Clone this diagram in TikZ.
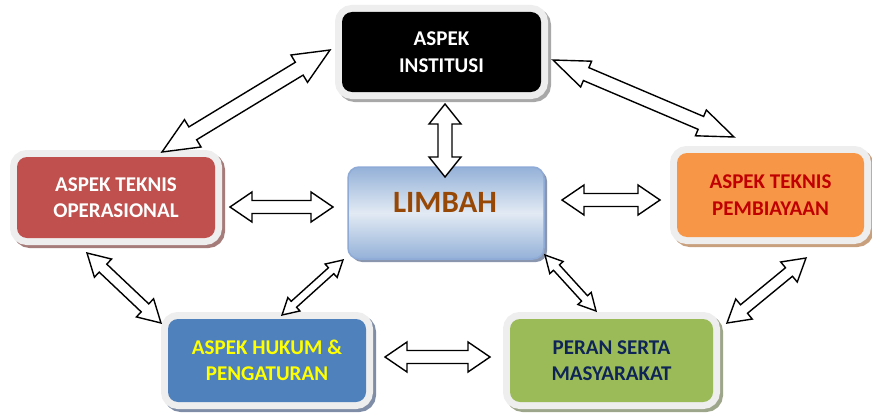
\documentclass[tikz,border=0pt]{standalone}
\usepackage{fontspec}
\setmainfont{Carlito}
\definecolor{framecol}{HTML}{EEEEEE}
\definecolor{opfill}{HTML}{C0504D}
\definecolor{opshade}{HTML}{A67C7A}
\definecolor{pbfill}{HTML}{F79646}
\definecolor{pbshade}{HTML}{C9A07E}
\definecolor{pbtext}{HTML}{C00000}
\definecolor{hkfill}{HTML}{4F81BD}
\definecolor{hkshade}{HTML}{7F8DA6}
\definecolor{hktext}{HTML}{FFFF00}
\definecolor{psfill}{HTML}{9BBB59}
\definecolor{psshade}{HTML}{9DA58A}
\definecolor{pstext}{HTML}{0F2557}
\definecolor{inshade}{HTML}{A8A8A8}
\definecolor{lbedge}{HTML}{8EAAD6}
\definecolor{lbdark}{HTML}{94B1D8}
\definecolor{lblight}{HTML}{E2EAF4}
\definecolor{lbshade}{HTML}{8A96AE}
\definecolor{lbtext}{HTML}{984806}

% double-headed block arrow between two named points:
% #1 tail, #2 tip, #3 half shaft width, #4 half head width, #5 head length (pt)
\newcommand\duoarrow[5]{%
  \path (#1); \pgfgetlastxy{\tailx}{\taily}%
  \path (#2); \pgfgetlastxy{\tipx}{\tipy}%
  \pgfmathsetmacro\arrang{atan2(\tipy-\taily,\tipx-\tailx)}%
  \pgfmathsetmacro\arrlen{veclen(\tipx-\tailx,\tipy-\taily)}%
  \draw[blockarrow, shift={(\tailx,\taily)}, rotate=\arrang]
    (0pt,0pt) -- (#5pt,#4pt) -- (#5pt,#3pt) -- ({\arrlen pt-#5pt},#3pt)
    -- ({\arrlen pt-#5pt},#4pt) -- (\arrlen pt,0pt) -- ({\arrlen pt-#5pt},-#4pt)
    -- ({\arrlen pt-#5pt},-#3pt) -- (#5pt,-#3pt) -- (#5pt,-#4pt) -- cycle;
}

\begin{document}
\begin{tikzpicture}[x=1pt,y=-1pt,
  blockarrow/.style={draw=black, fill=white, line width=1.4pt, line join=miter},
  aspect/.style n args={2}{rounded corners=10pt, inner sep=0pt, align=center,
    font=\fontsize{21}{26.5}\selectfont\bfseries, fill=#1,
    preaction={draw=#2, line width=14pt, transform canvas={shift={(3pt,-3pt)}}},
    preaction={draw=framecol, line width=14pt}},
  ]
\useasboundingbox (0,0) rectangle (872,412);
\fill[white] (0,0) rectangle (872,412);

% central box
\node[rounded corners=11pt, minimum width=196pt, minimum height=92pt,
  draw=lbedge, line width=1.5pt, shading=axis, shading angle=45,
  top color=lbdark, bottom color=lbdark, middle color=lblight,
  preaction={fill=lbshade, transform canvas={shift={(3pt,-3pt)}}}]
  (limbah) at (446,213) {};
\node[font=\fontsize{31}{36}\selectfont\bfseries, text=lbtext] (limbahtext) at (445,202) {LIMBAH};

% surrounding aspects
\node[aspect={black}{inshade}, text=white, minimum width=199pt, minimum height=80pt]
  (inst) at (441.5,52) {ASPEK\\INSTITUSI};
\node[aspect={opfill}{opshade}, text=white, minimum width=198pt, minimum height=81pt]
  (oper) at (116,197.5) {ASPEK TEKNIS\\OPERASIONAL};
\node[aspect={pbfill}{pbshade}, text=pbtext, minimum width=187pt, minimum height=84pt]
  (biaya) at (770.5,195) {ASPEK TEKNIS\\PEMBIAYAAN};
\node[aspect={hkfill}{hkshade}, text=hktext, minimum width=198pt, minimum height=83pt]
  (hukum) at (267,360.5) {ASPEK HUKUM \&\\PENGATURAN};
\node[aspect={psfill}{psshade}, text=pstext, minimum width=203pt, minimum height=83pt]
  (peran) at (611.5,360.5) {PERAN SERTA\\MASYARAKAT};

% arrow end points
\coordinate (a1s) at (162,152);  \coordinate (a1e) at (330,50);
\coordinate (a2s) at (553,60);   \coordinate (a2e) at (734,137);
\coordinate (a3s) at (445,104);  \coordinate (a3e) at (445,177);
\coordinate (a4s) at (230,207);  \coordinate (a4e) at (333,207);
\coordinate (a5s) at (562,200);  \coordinate (a5e) at (660,200);
\coordinate (a6s) at (87,253);   \coordinate (a6e) at (161,323);
\coordinate (a7s) at (282,315);  \coordinate (a7e) at (343,260);
\coordinate (a8s) at (385,357);  \coordinate (a8e) at (490,357);
\coordinate (a9s) at (545,255);  \coordinate (a9e) at (596,311);
\coordinate (a10s) at (727,323); \coordinate (a10e) at (806,258);

% connectors
\duoarrow{a1s}{a1e}{7.5}{16}{36}
\duoarrow{a2s}{a2e}{7}{14}{36}
\duoarrow{a3s}{a3e}{7}{16}{20}
\duoarrow{a4s}{a4e}{6.5}{15}{22}
\duoarrow{a5s}{a5e}{6.5}{15}{22}
\duoarrow{a6s}{a6e}{5.5}{12.5}{22}
\duoarrow{a7s}{a7e}{4}{9}{16}
\duoarrow{a8s}{a8e}{6.5}{15}{22}
\duoarrow{a9s}{a9e}{4}{9}{17}
\duoarrow{a10s}{a10e}{5.5}{13}{22}
\end{tikzpicture}
\end{document}
